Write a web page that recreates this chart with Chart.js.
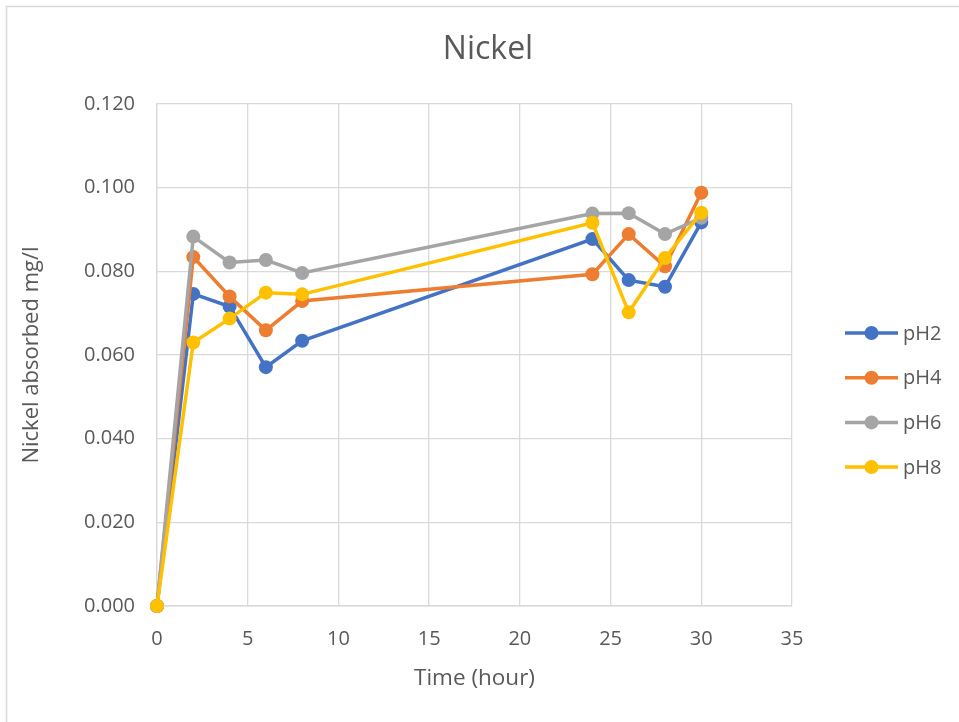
<!DOCTYPE html>
<html>
<head>
<meta charset="utf-8">
<script src="https://cdn.jsdelivr.net/npm/chart.js@4.4.0/dist/chart.umd.min.js"></script>
<style>
  html, body { margin: 0; padding: 0; background: #fff; }
  #wrap { width: 959px; height: 722px; position: relative; }
</style>
</head>
<body>
<div id="wrap"><canvas id="chart" width="959" height="722"></canvas></div>
<script>
const hours = [0, 2, 4, 6, 8, 24, 26, 28, 30];
const seriesNames = ['pH2', 'pH4', 'pH6', 'pH8'];
const pH2 = [0, 0.0746, 0.0716, 0.0571, 0.0634, 0.0877, 0.0779, 0.0763, 0.0917];
const pH4 = [0, 0.0834, 0.0740, 0.0659, 0.0729, 0.0793, 0.0889, 0.0812, 0.0988];
const pH6 = [0, 0.0883, 0.0821, 0.0827, 0.0796, 0.0938, 0.0939, 0.0889, 0.0928];
const pH8 = [0, 0.0630, 0.0687, 0.0749, 0.0745, 0.0916, 0.0702, 0.0832, 0.0940];
const colors = ['#4472C4', '#ED7D31', '#A5A5A5', '#FFC000'];
const yTicks = [0, 0.02, 0.04, 0.06, 0.08, 0.10, 0.12];

const FONT = "'Open Sans', 'Noto Sans', sans-serif";
const TEXT = '#595959';
const GRID = '#d9d9d9';

const allSeries = [pH2, pH4, pH6, pH8];
const datasets = allSeries.map((vals, i) => ({
    label: seriesNames[i],
    data: hours.map((h, j) => ({ x: h, y: vals[j] })),
    borderColor: colors[i],
    backgroundColor: colors[i],
    borderWidth: 3.5,
    pointRadius: 7,
    pointBorderWidth: 0,
    showLine: true,
    clip: false,
    order: allSeries.length - i
}));

// frame, title and legend drawn like the Excel chart
const excelBits = {
    id: 'excelBits',
    beforeDraw(chart) {
        const ctx = chart.ctx;
        ctx.save();
        ctx.strokeStyle = GRID;
        ctx.lineWidth = 1.5;
        ctx.beginPath();
        ctx.moveTo(6.5, 722);
        ctx.lineTo(6.5, 6.5);
        ctx.lineTo(959, 6.5);
        ctx.stroke();
        ctx.restore();
    },
    afterDraw(chart) {
        const ctx = chart.ctx;
        ctx.save();
        ctx.fillStyle = TEXT;
        ctx.font = '32px ' + FONT;
        ctx.textAlign = 'center';
        ctx.textBaseline = 'middle';
        ctx.fillText('Nickel', 488, 50);

        ctx.font = '20px ' + FONT;
        ctx.textAlign = 'left';
        chart.data.datasets.forEach((ds, i) => {
            const y = 333 + i * 44.7;
            ctx.strokeStyle = ds.borderColor;
            ctx.lineWidth = 3.5;
            ctx.beginPath();
            ctx.moveTo(845, y);
            ctx.lineTo(898, y);
            ctx.stroke();
            ctx.fillStyle = ds.borderColor;
            ctx.beginPath();
            ctx.arc(871.5, y, 7, 0, Math.PI * 2);
            ctx.fill();
            ctx.fillStyle = TEXT;
            ctx.fillText(ds.label, 903, y + 1);
        });
        ctx.restore();
    }
};

new Chart(document.getElementById('chart').getContext('2d'), {
    type: 'scatter',
    data: { datasets },
    options: {
        responsive: false,
        animation: false,
        layout: { padding: { top: 104, right: 167, left: 0, bottom: 0 } },
        plugins: {
            legend: { display: false },
            tooltip: { enabled: false }
        },
        scales: {
            x: {
                type: 'linear',
                min: 0,
                max: 35,
                afterFit: s => { s.height = 116; },
                ticks: { stepSize: 5, color: TEXT, font: { family: FONT, size: 20 }, padding: 21 },
                grid: { color: GRID, lineWidth: 1.3, drawTicks: false },
                border: { color: GRID, width: 1.5 },
                title: { display: true, text: 'Time (hour)', color: TEXT, font: { family: FONT, size: 22.5 }, padding: { top: 0, bottom: 30 } }
            },
            y: {
                min: 0,
                max: 0.12,
                afterFit: s => { s.width = 157; },
                afterBuildTicks: s => { s.ticks = yTicks.map(v => ({ value: v })); },
                ticks: { color: TEXT, font: { family: FONT, size: 20 }, padding: 22, callback: v => v.toFixed(3) },
                grid: { color: GRID, lineWidth: 1.3, drawTicks: false },
                border: { color: GRID, width: 1.3 },
                title: { display: true, text: 'Nickel absorbed mg/l', color: TEXT, font: { family: FONT, size: 22 }, padding: { top: 19, bottom: 0 } }
            }
        }
    },
    plugins: [excelBits]
});
</script>
</body>
</html>
